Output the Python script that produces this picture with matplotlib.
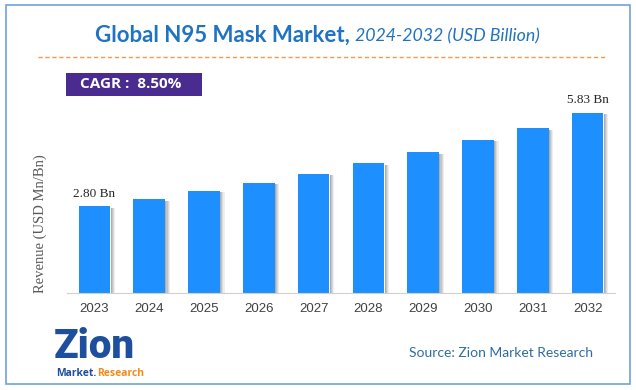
import numpy as np
import matplotlib.pyplot as plt
from matplotlib.patches import Rectangle
from matplotlib.lines import Line2D

# data
years = ['2023', '2024', '2025', '2026', '2027', '2028', '2029', '2030', '2031', '2032']
revenue = [2.80, 3.03, 3.30, 3.56, 3.85, 4.20, 4.56, 4.95, 5.33, 5.83]
first_label = '2.80 Bn'
last_label = '5.83 Bn'

W, H = 636, 390
fig = plt.figure(figsize=(W / 100, H / 100), dpi=100)
fig.patch.set_facecolor('white')

def fx(px):
    return px / W

def fy(py):
    return 1 - py / H

# outer border
fig.patches.append(Rectangle((fx(6), fy(384)), fx(624), (384 - 5) / H, transform=fig.transFigure,
                             fill=False, edgecolor='#6fa3d8', linewidth=1.2))

# title
fig.text(fx(350), fy(35), 'Global N95 Mask Market,', ha='right', va='center',
         fontsize=16, fontweight='bold', color='#1f73c2', family='Lato')
fig.text(fx(355), fy(36), '2024-2032 (USD Billion)', ha='left', va='center',
         fontsize=12.8, fontstyle='italic', color='#1f73c2', family='Lato')

# dashed orange separator
fig.lines.append(Line2D([fx(38), fx(605)], [fy(57), fy(57)], transform=fig.transFigure,
                        color='#f79646', linewidth=1, linestyle=(0, (3, 2))))

# CAGR box
fig.patches.append(Rectangle((fx(66), fy(96)), fx(136), 23 / H, transform=fig.transFigure,
                             facecolor='#4a2c91', edgecolor='none'))
fig.text(fx(80), fy(84.5), 'CAGR :  8.50%', ha='left', va='center', fontsize=11,
         fontweight='bold', color='white', family='Open Sans')

# bar chart
ax = fig.add_axes([fx(67), 97 / H, 548 / W, 193 / H])
x = np.arange(len(years))
bw = 0.58
# soft shadow on the right side of each bar
for k, a in enumerate([0.45, 0.32, 0.2, 0.09]):
    ax.bar(x + bw / 2 + 0.02 * k + 0.005, np.array(revenue) - 0.05, width=0.02,
           color='#4a4a4a', alpha=a, align='edge', linewidth=0, zorder=1)
ax.bar(x, revenue, width=bw, color='#1e8fff', linewidth=0, zorder=2)

ax.set_xlim(-0.5, 9.5)
ax.set_ylim(0, 6.24)
ax.set_xticks(x)
ax.set_xticklabels(years, fontsize=9.5, color='#404040', family='Liberation Sans')
ax.tick_params(axis='x', length=0, pad=7)
ax.set_yticks([])
for side in ['top', 'right', 'left']:
    ax.spines[side].set_visible(False)
ax.spines['bottom'].set_color('#d0d0d0')
ax.set_facecolor('none')

ax.text(x[0], revenue[0] + 0.22, first_label, ha='center', va='bottom', fontsize=9.5,
        family='Liberation Serif', color='#262626')
ax.text(x[-1], revenue[-1] + 0.22, last_label, ha='center', va='bottom', fontsize=9.5,
        family='Liberation Serif', color='#262626')

fig.text(fx(40), fy(224), 'Revenue (USD Mn/Bn)', rotation=90, ha='center', va='center',
         fontsize=10.5, family='Liberation Serif', color='#595959')

# logo (approximation with text)
fig.text(fx(54), fy(346), 'Zion', ha='left', va='center', fontsize=29, fontweight='heavy',
         color='#1d4f9e', family='Roboto')
fig.text(fx(56), fy(373), 'Market.', ha='left', va='center', fontsize=7.5, fontweight='bold',
         color='#1d4f9e', family='Open Sans')
fig.text(fx(97), fy(373), 'Research', ha='left', va='center', fontsize=7.5, fontweight='bold',
         color='#f08c1e', family='Open Sans')

# source
fig.text(fx(501), fy(353), 'Source: Zion Market Research', ha='center', va='center',
         fontsize=10, color='#2e6da4', family='Lato')

fig.savefig('out.png', dpi=100)
